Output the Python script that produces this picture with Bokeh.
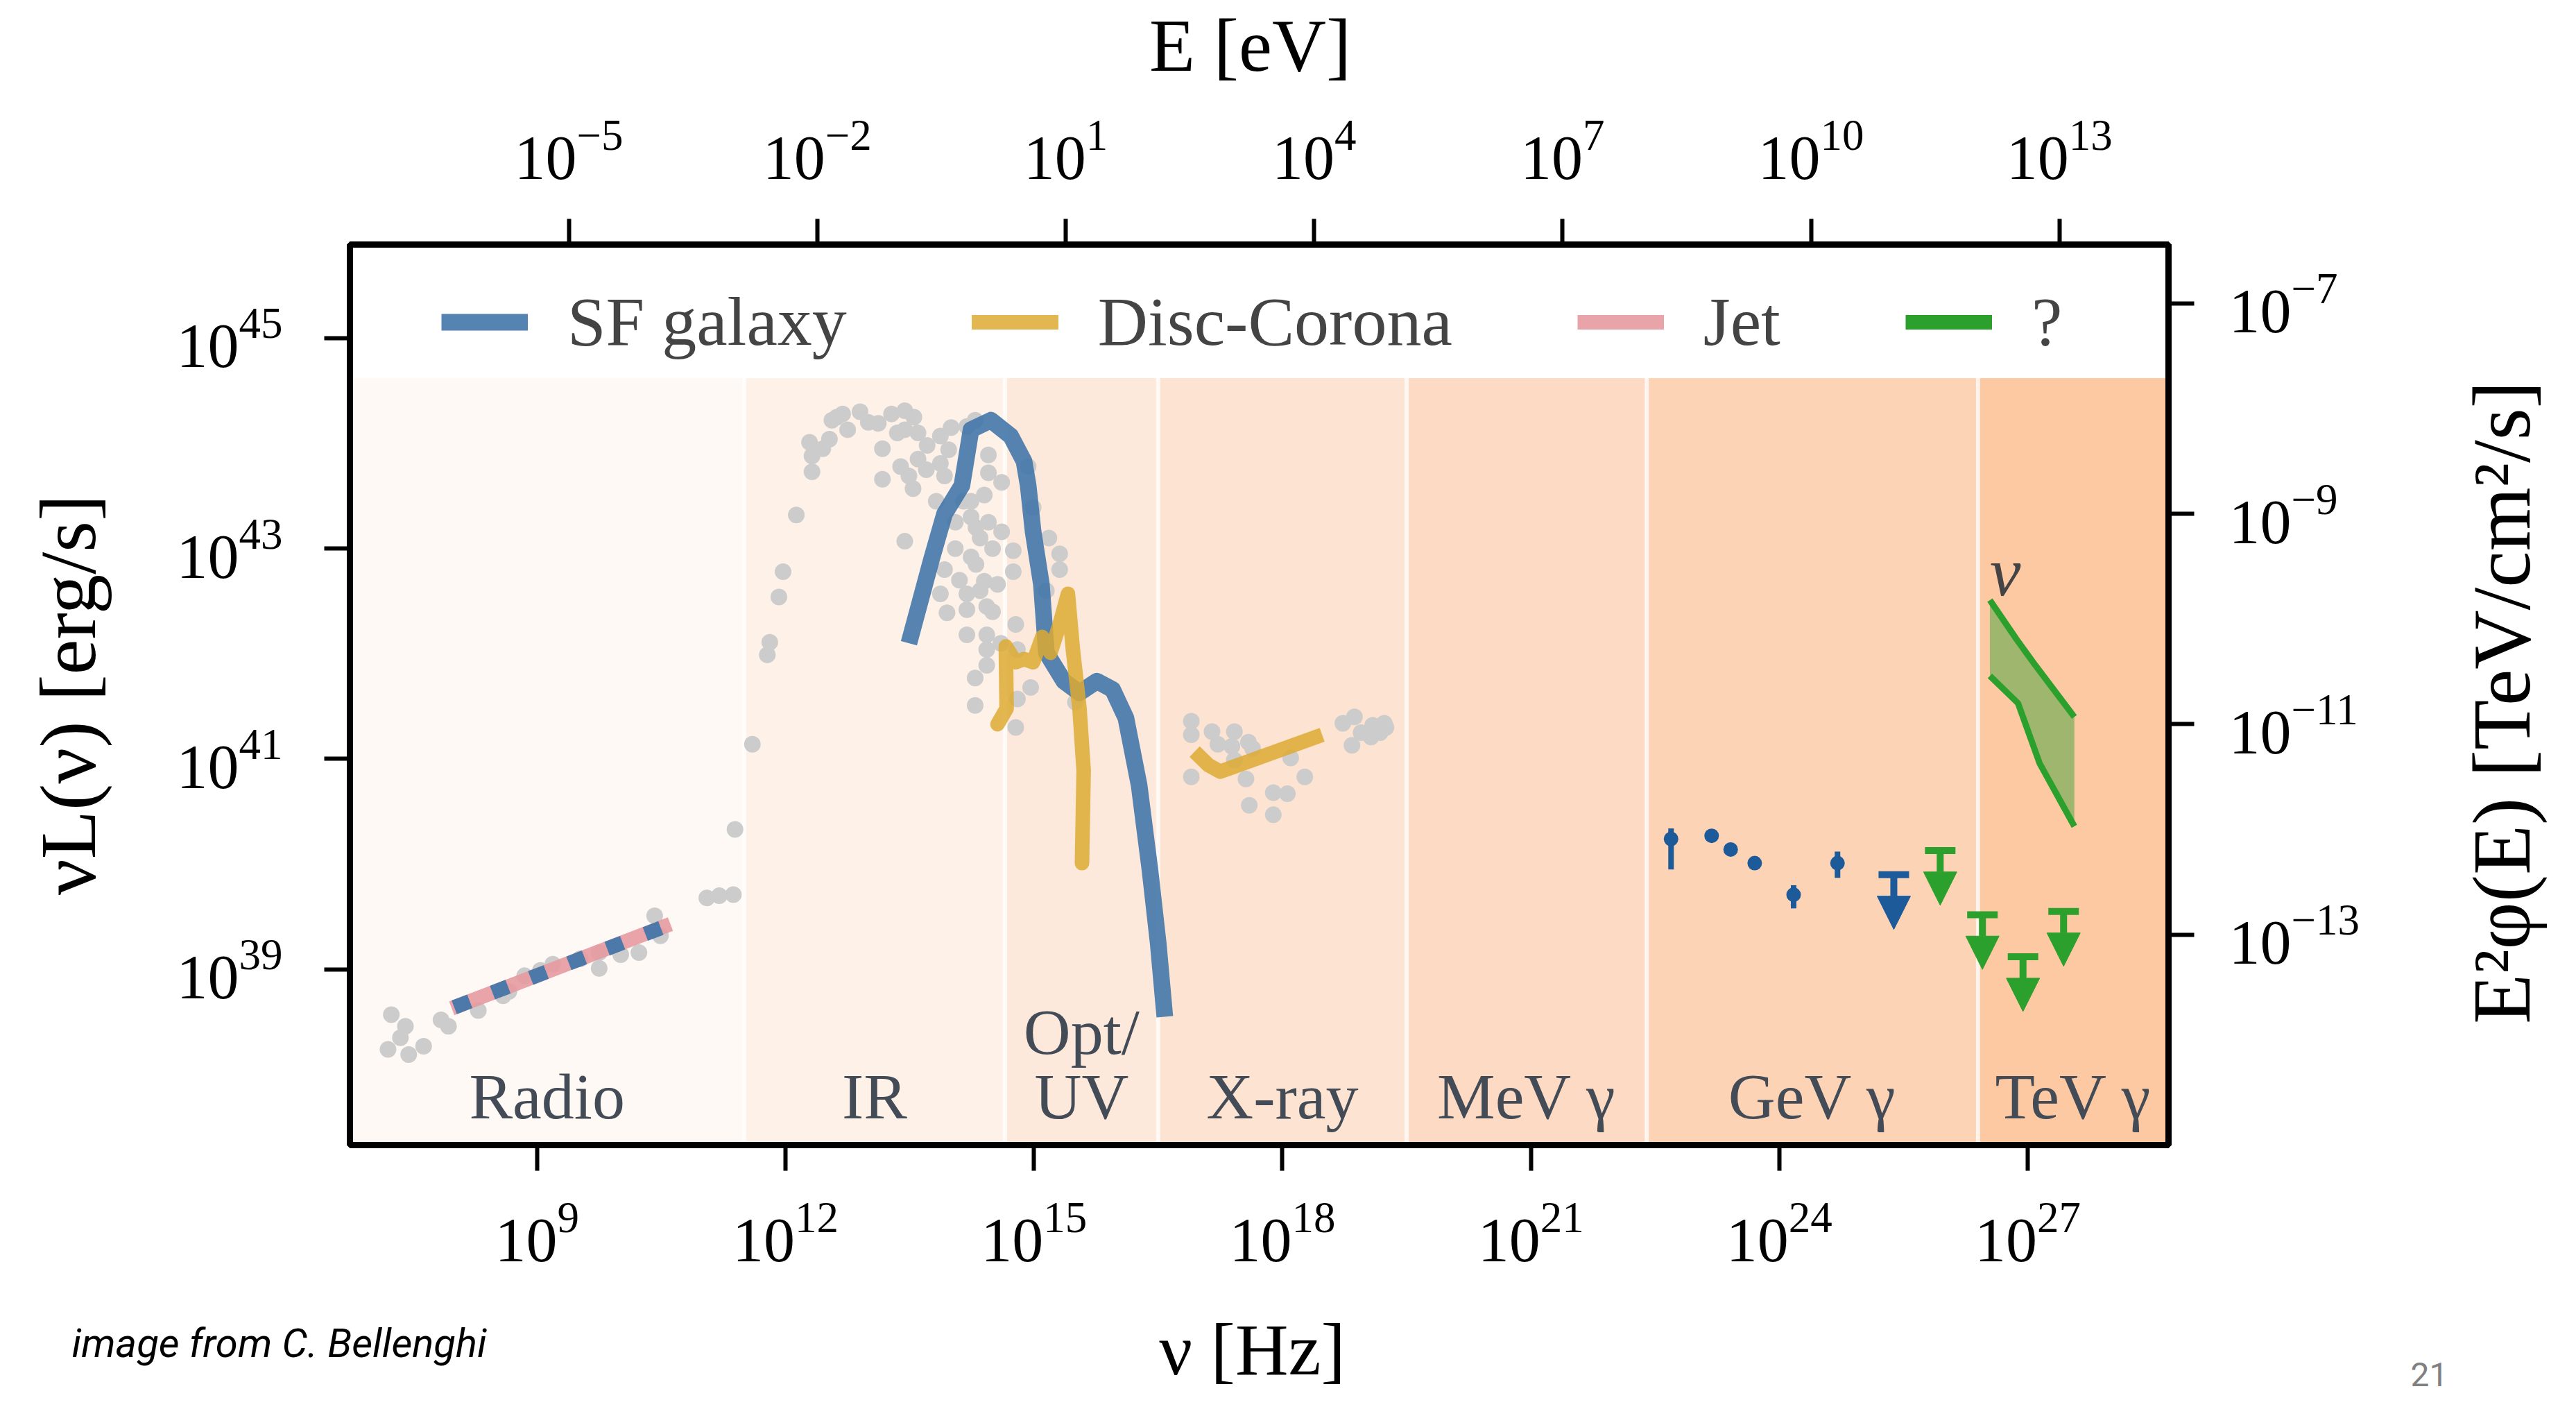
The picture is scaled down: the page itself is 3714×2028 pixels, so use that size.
import numpy as np
from bokeh.plotting import figure
from bokeh.layouts import column, row
from bokeh.models import (Range1d, LogScale, LogAxis, FixedTicker, Label, Legend,
                          LegendItem, ColumnDataSource, Arrow, NormalHead, TeeHead)
from bokeh.core.properties import value
from bokeh.embed import file_html
from bokeh.resources import INLINE

FONT = "Liberation Serif"
NARROW = "Liberation Sans Narrow, Roboto"

# ---------------- data (log10 values) ----------------
nu_lim = [6.74, 28.70]          # log10(nu / Hz)
L_lim = [37.33, 45.89]          # log10(nuL / erg s^-1)
h_eV_log = -14.383              # log10(h in eV s): E = h nu
flux_offset = -52.33            # log10 E^2 phi = log10 nuL + offset (right axis)

bottom_ticks = [9, 12, 15, 18, 21, 24, 27]
top_ticks = [-5, -2, 1, 4, 7, 10, 13]
left_ticks = [39, 41, 43, 45]
right_ticks = [-13, -11, -9, -7]

band_names = ["Radio", "IR", "Opt/\nUV", "X-ray", "MeV \u03b3", "GeV \u03b3", "TeV \u03b3"]
band_edges = [6.74, 11.5, 14.65, 16.5, 19.5, 22.4, 26.4, 28.7]
band_colors = ["#fef9f5", "#fdf1e8", "#fde9dc", "#fde3d1", "#fddac3", "#fdd3b6", "#fcc9a2"]
band_top = 44.62

# SF galaxy model
sf_lognu = [13.49, 13.76, 13.92, 14.13, 14.24, 14.48, 14.72, 14.88, 14.93, 14.99, 15.09,
            15.15, 15.36, 15.55, 15.76, 15.95, 16.11, 16.27, 16.40, 16.50, 16.58]
sf_logL = [42.10, 42.89, 43.33, 43.60, 44.13, 44.22, 44.07, 43.83, 43.60, 43.16, 42.66,
           42.01, 41.74, 41.63, 41.74, 41.66, 41.39, 40.75, 39.95, 39.25, 38.55]
sf_radio_lognu = [8.00, 10.55]
sf_radio_logL = [38.64, 39.41]

# Jet
jet_lognu = [7.97, 10.61]
jet_logL = [38.63, 39.43]

# Disc-Corona
disc_lognu = [14.56, 14.67, 14.66, 14.78, 14.88, 14.99, 15.10, 15.20, 15.31, 15.41,
              15.47, 15.55, 15.60, 15.58]
disc_logL = [41.33, 41.48, 42.07, 41.92, 41.95, 41.92, 42.16, 42.01, 42.28, 42.57,
             42.04, 41.48, 40.89, 40.01]
discx_lognu = [16.94, 17.11, 17.25, 18.48]
discx_logL = [41.07, 40.94, 40.88, 41.23]

# grey observational points (log nu, log nuL)
grey_radio = [(7.24, 38.57), (7.41, 38.46), (7.35, 38.35), (7.20, 38.24), (7.45, 38.19),
              (7.63, 38.27), (7.84, 38.52), (7.93, 38.46), (8.29, 38.61), (8.59, 38.75),
              (8.66, 38.79), (8.85, 38.94), (9.04, 38.99), (9.19, 39.05), (9.52, 39.10),
              (9.75, 39.01), (9.75, 39.16), (10.01, 39.14), (10.23, 39.16), (10.42, 39.51),
              (10.49, 39.32), (11.05, 39.68), (11.20, 39.70), (11.37, 39.71), (11.39, 40.33)]
grey_ir = [(11.60, 41.14), (11.78, 41.99), (11.81, 42.11), (11.92, 42.54), (11.97, 42.78),
           (12.13, 43.32), (12.32, 43.73), (12.32, 43.88), (12.29, 44.01), (12.53, 44.04),
           (12.56, 44.22), (12.69, 44.28), (12.75, 44.13), (13.12, 44.19), (13.17, 43.95),
           (13.17, 43.66), (13.28, 44.28), (13.44, 44.31), (13.44, 44.13), (13.44, 43.07),
           (13.39, 43.78), (13.49, 43.69), (13.60, 44.10), (13.54, 43.57), (13.71, 43.98),
           (13.87, 44.07), (13.87, 43.81), (13.82, 43.45), (13.97, 43.94), (13.92, 43.69),
           (13.92, 42.80), (13.87, 42.57), (13.95, 42.39), (14.19, 42.57), (14.19, 42.42),
           (14.19, 42.18), (14.29, 41.51), (14.29, 41.77), (14.43, 42.45), (14.43, 42.18),
           (14.43, 42.04), (14.43, 41.89), (14.40, 42.69), (14.24, 42.92), (14.35, 43.10),
           (14.24, 43.30), (14.45, 43.25), (14.24, 43.45), (14.40, 43.51), (14.45, 43.72),
           (14.45, 43.89), (14.29, 44.22), (14.19, 44.16), (14.56, 42.66), (14.61, 43.63),
           (14.61, 43.16), (14.75, 42.98), (14.75, 42.78), (14.78, 42.28), (14.80, 42.04),
           (14.96, 41.68), (14.80, 41.57), (14.78, 41.30), (15.18, 43.10), (15.31, 42.95),
           (15.31, 42.80), (15.15, 42.60), (15.50, 41.54), (14.93, 43.78), (14.99, 43.39),
           (14.05, 43.00), (14.10, 42.70), (14.30, 42.85), (14.35, 42.60), (14.30, 43.20),
           (14.50, 43.00), (14.50, 42.40), (14.60, 42.10), (14.15, 43.45), (14.05, 43.25),
           (13.70, 43.75), (13.60, 43.85), (13.00, 44.20), (12.90, 44.30), (13.35, 44.10),
           (13.55, 44.25), (14.00, 44.15), (12.45, 43.95), (12.62, 44.25)]
grey_xray = [(16.90, 41.36), (16.90, 41.23), (16.90, 40.83), (17.15, 41.26), (17.22, 41.14),
             (17.42, 41.26), (17.39, 41.12), (17.59, 41.16), (17.64, 41.10), (17.42, 40.99),
             (17.56, 40.81), (17.60, 40.56), (17.89, 40.68), (18.06, 40.67), (17.89, 40.47),
             (18.10, 41.01), (18.27, 40.83), (18.73, 41.34), (18.87, 41.40), (18.84, 41.13),
             (18.95, 41.25), (19.09, 41.32), (19.07, 41.21), (19.23, 41.34), (19.25, 41.30),
             (19.18, 41.25)]

# GeV gamma-ray points (log E/eV, log E^2 phi / TeV cm^-2 s^-1)
gev_logE = [8.31, 8.80, 9.03, 9.32, 9.79, 10.32]
gev_logF = [-12.09, -12.06, -12.19, -12.32, -12.62, -12.32]
gev_err_hi = [-11.99, -12.06, -12.19, -12.32, -12.53, -12.21]
gev_err_lo = [-12.38, -12.06, -12.19, -12.32, -12.75, -12.46]
gev_ul_logE = [11.00]
gev_ul_logF = [-12.43]
tev_ul_logE = [11.56, 12.07, 12.56, 13.05]
tev_ul_logF = [-12.20, -12.81, -13.21, -12.78]

# neutrino band
nu_up_logE = [12.16, 12.48, 12.71, 13.18]
nu_up_logF = [-9.82, -10.19, -10.44, -10.93]
nu_lo_logE = [12.16, 12.50, 12.76, 13.18]
nu_lo_logF = [-10.54, -10.80, -11.37, -11.97]

# ---------------- colours ----------------
C_SF = "#4477AA"
C_DISC = "#DDAA33"
C_JET = "#e59aa0"
C_Q = "#2ca02c"
C_GEV = "#1c5a99"
C_GREY = "#cccccc"
C_BANDTXT = "#434b56"

P = lambda a: 10 ** np.asarray(a, dtype=float)

# ---------------- layout geometry (canvas px) ----------------
TOTAL_W, TOTAL_H = 3698, 2012
TOP_H, BOT_H, RIGHT_W = 130, 135, 160
MAIN_W = TOTAL_W - RIGHT_W
MAIN_H = TOTAL_H - TOP_H - BOT_H
FRAME_L, FRAME_R, FRAME_T, FRAME_B = 504, 3126, 352, 1650   # frame edges on the page canvas

# ---------------- main figure ----------------
p = figure(width=MAIN_W, height=MAIN_H, x_axis_type="log", y_axis_type="log",
           x_range=Range1d(*P(nu_lim)), y_range=Range1d(*P(L_lim)),
           output_backend="svg", toolbar_location=None,
           min_border_left=FRAME_L, min_border_right=MAIN_W - FRAME_R,
           min_border_top=FRAME_T - TOP_H, min_border_bottom=TOP_H + MAIN_H - FRAME_B)
p.extra_x_ranges = {"E": Range1d(*P(np.array(nu_lim) + h_eV_log))}
p.extra_x_scales = {"E": LogScale()}
p.extra_y_ranges = {"F": Range1d(*P(np.array(L_lim) + flux_offset))}
p.extra_y_scales = {"F": LogScale()}

p.grid.visible = False
p.background_fill_color = "white"
p.border_fill_color = "white"
p.outline_line_color = "black"
p.outline_line_width = 9

bottom_axis = p.below[0]
left_axis = p.left[0]
bottom_axis.ticker = FixedTicker(ticks=list(P(bottom_ticks)))
left_axis.ticker = FixedTicker(ticks=list(P(left_ticks)))
top_axis = LogAxis(x_range_name="E", ticker=FixedTicker(ticks=list(P(top_ticks))))
right_axis = LogAxis(y_range_name="F", ticker=FixedTicker(ticks=list(P(right_ticks))))
p.add_layout(top_axis, "above")
p.add_layout(right_axis, "right")

for ax, standoff in [(bottom_axis, 46), (left_axis, 60), (top_axis, 58), (right_axis, 50)]:
    ax.axis_line_width = 9
    ax.major_tick_line_width = 6
    ax.major_tick_out = 37
    ax.major_tick_in = 0
    ax.minor_tick_line_color = None
    ax.major_label_text_font = FONT
    ax.major_label_text_font_size = "90px"
    ax.major_label_text_color = "black"
    ax.major_label_standoff = standoff

left_axis.axis_label = "\u03bdL(\u03bd) [erg/s]"
left_axis.axis_label_text_font = FONT
left_axis.axis_label_text_font_size = "115px"
left_axis.axis_label_text_font_style = "normal"
left_axis.axis_label_text_color = "black"
left_axis.axis_label_standoff = 90

# ---------------- bands ----------------
ybot = P(L_lim[0])
ytop = P(band_top)
p.quad(left=P(band_edges[:-1]), right=P(band_edges[1:]), bottom=ybot, top=ytop,
       fill_color=band_colors, line_color=None)
p.segment(x0=P(band_edges[1:-1]), x1=P(band_edges[1:-1]), y0=ybot, y1=ytop,
          line_color="white", line_alpha=0.75, line_width=6)
centres = [(band_edges[i] + band_edges[i + 1]) / 2 for i in range(len(band_names))]
p.text(x=P(centres), y=P([37.45] * len(band_names)), text=band_names,
       text_font=value(FONT), text_font_size="94px", text_color=C_BANDTXT,
       text_align="center", text_baseline="bottom", text_line_height=0.9)

# ---------------- grey data points ----------------
grey = grey_radio + grey_ir + grey_xray
p.scatter(x=P([g[0] for g in grey]), y=P([g[1] for g in grey]), size=24,
          fill_color=C_GREY, line_color=None)

# ---------------- models ----------------
r_jet = p.line(P(jet_lognu), P(jet_logL), line_color=C_JET, line_width=21, line_alpha=0.9)
p.line(P(sf_radio_lognu), P(sf_radio_logL), line_color=C_SF, line_width=21,
       line_dash="24 35", line_alpha=0.95)
r_sf = p.line(P(sf_lognu), P(sf_logL), line_color=C_SF, line_width=24, line_alpha=0.9,
              line_join="round")
r_disc = p.line(P(disc_lognu), P(disc_logL), line_color=C_DISC, line_width=21,
                line_alpha=0.85, line_join="round", line_cap="round")
p.line(P(discx_lognu), P(discx_logL), line_color=C_DISC, line_width=21,
       line_alpha=0.85, line_join="round")

# ---------------- gamma rays ----------------
p.segment(x0=P(gev_logE), x1=P(gev_logE), y0=P(gev_err_lo), y1=P(gev_err_hi),
          line_color=C_GEV, line_width=8, x_range_name="E", y_range_name="F")
p.scatter(P(gev_logE), P(gev_logF), size=21, fill_color=C_GEV, line_color=None,
          x_range_name="E", y_range_name="F")

ARROW_LEN = 0.52  # decades (upper-limit arrow style)
for xs, ys, col in [(gev_ul_logE, gev_ul_logF, C_GEV), (tev_ul_logE, tev_ul_logF, C_Q)]:
    src = ColumnDataSource(dict(x0=P(xs), y0=P(ys), x1=P(xs),
                                y1=P(np.array(ys) - ARROW_LEN)))
    p.add_layout(Arrow(x_start="x0", y_start="y0", x_end="x1", y_end="y1", source=src,
                       x_range_name="E", y_range_name="F", line_color=col, line_width=10,
                       start=TeeHead(size=44, line_color=col, line_width=10),
                       end=NormalHead(size=48, fill_color=col, line_color=col, line_width=1)))

# ---------------- neutrinos ----------------
band_x = list(P(nu_up_logE)) + list(P(nu_lo_logE))[::-1]
band_y = list(P(nu_up_logF)) + list(P(nu_lo_logF))[::-1]
p.patch(band_x, band_y, fill_color=C_Q, fill_alpha=0.45, line_color=None,
        x_range_name="E", y_range_name="F")
p.line(P(nu_up_logE), P(nu_up_logF), line_color=C_Q, line_width=9,
       x_range_name="E", y_range_name="F")
p.line(P(nu_lo_logE), P(nu_lo_logF), line_color=C_Q, line_width=9,
       x_range_name="E", y_range_name="F")
# legend proxy for "?" (thick swatch), not drawn in the plot itself
r_q = p.line(P(nu_up_logE), P(nu_up_logF), line_color=C_Q, line_width=21,
             x_range_name="E", y_range_name="F", visible=False)
p.add_layout(Label(x=P(nu_up_logE[0]), y=P(nu_up_logF[0] + 0.27), x_range_name="E",
                   y_range_name="F", text="\u03bd", text_font=FONT,
                   text_font_style="italic", text_font_size="100px", text_align="left",
                   text_baseline="alphabetic"))

# ---------------- legend ----------------
legend = Legend(items=[LegendItem(label="SF galaxy", renderers=[r_sf]),
                       LegendItem(label="Disc-Corona", renderers=[r_disc]),
                       LegendItem(label="Jet", renderers=[r_jet]),
                       LegendItem(label="?", renderers=[r_q])],
                orientation="horizontal", location=(132, 1129),
                glyph_width=125, glyph_height=110, label_height=110,
                label_standoff=57, spacing=180, padding=0, margin=0,
                background_fill_alpha=0, border_line_alpha=0,
                inactive_fill_alpha=0, click_policy="none",
                label_text_font=FONT, label_text_font_size="100px")
p.add_layout(legend)


# ---------------- text strips around the chart ----------------
def strip(w, h):
    f = figure(width=w, height=h, output_backend="svg", toolbar_location=None,
               x_range=Range1d(0, 1), y_range=Range1d(0, 1),
               x_axis_location=None, y_axis_location=None, min_border=0,
               min_border_left=0, min_border_right=0, min_border_top=0,
               min_border_bottom=0)
    f.grid.visible = False
    f.outline_line_color = None
    f.background_fill_color = "white"
    f.border_fill_color = "white"
    return f


def lab(f, x, y, text, size, align="center", angle=0.0, font=FONT, style="normal",
        color="black"):
    f.add_layout(Label(x=x, y=y, x_units="screen", y_units="screen", text=text,
                       text_font=font, text_font_size=size, text_align=align,
                       text_baseline="middle", angle=angle, text_font_style=style,
                       text_color=color))


top = strip(TOTAL_W, TOP_H)
lab(top, 1802, TOP_H / 2, "E [eV]", "108px")

# the right strip's frame is aligned with the chart frame by the row layout
right = strip(RIGHT_W, MAIN_H)
lab(right, 69, FRAME_B - 1012, "E\u00b2\u03c6(E) [TeV/cm\u00b2/s]", "118px",
    angle=np.pi / 2)

bottom = strip(TOTAL_W, BOT_H)
lab(bottom, 103, 77, "image from C. Bellenghi", "58px", align="left", font=NARROW,
    style="italic")
lab(bottom, 1805, 67, "\u03bd [Hz]", "106px")
lab(bottom, 3475, 32, "21", "48px", align="left", font=NARROW, color="#808080")

layout = column(top, row(p, right), bottom)
open("out.html", "w").write(file_html(layout, INLINE))
